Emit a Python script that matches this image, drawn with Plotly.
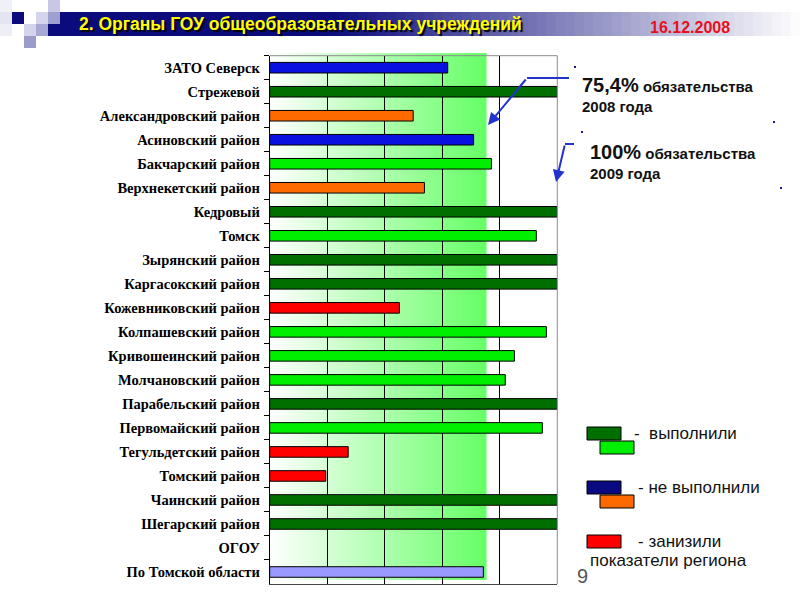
import plotly.graph_objects as go

# ---------------- data ----------------
regions = ["ЗАТО Северск", "Стрежевой", "Александровский район", "Асиновский район",
           "Бакчарский район", "Верхнекетский район", "Кедровый", "Томск",
           "Зырянский район", "Каргасокский район", "Кожевниковский район",
           "Колпашевский район", "Кривошеинский район", "Молчановский район",
           "Парабельский район", "Первомайский район", "Тегульдетский район",
           "Томский район", "Чаинский район", "Шегарский район", "ОГОУ",
           "По Томской области"]
percent = [61.9, 100, 49.9, 70.9, 77.1, 53.8, 100, 92.7, 100, 100, 45.1,
           96.2, 85.1, 81.9, 100, 94.8, 27.3, 19.5, 100, 100, None, 74.3]
status = ["not_done_a", "done_a", "not_done_b", "not_done_a", "done_b", "not_done_b",
          "done_a", "done_b", "done_a", "done_a", "lowered", "done_b", "done_b",
          "done_b", "done_a", "done_b", "lowered", "lowered", "done_a", "done_a",
          "none", "region"]
target_2008 = 75.4
target_2009 = 100
x_ticks = [0, 20, 40, 60, 80, 100]

title_text = "2. Органы ГОУ общеобразовательных учреждений"
date_text = "16.12.2008"

# ---------------- styles ----------------
status_colors = {
    "done_a": "#006f00", "done_b": "#00ee00",
    "not_done_a": "#0a10e0", "not_done_b": "#ff6a00",
    "lowered": "#ff0000", "region": "#9999ff", "none": "rgba(0,0,0,0)",
}
W, H = 800, 600
def px(x): return x / W
def py(y): return 1 - y / H

X0, X1 = 269.7, 557.3
Y0, Y1 = 55.7, 584.0

fig = go.Figure()
fig.add_trace(go.Bar(
    x=percent, y=regions, orientation="h",
    marker=dict(color=[status_colors[s] for s in status],
                line=dict(color="black", width=1)),
    width=0.44, showlegend=False, hoverinfo="x+y",
))

shapes = []
annotations = []

# green gradient background up to the 2008 obligation level
n = 60
for i in range(n):
    a = target_2008 * i / n
    b = target_2008 * (i + 1) / n + 0.3
    t = (i + 0.5) / n
    r = int(255 - t * (255 - 0x66))
    bl = int(255 - t * (255 - 0x66))
    shapes.append(dict(type="rect", xref="x", yref="paper",
                       x0=a, x1=min(b, target_2008), y0=py(580), y1=py(53),
                       fillcolor=f"rgb({r},255,{bl})", line=dict(width=0),
                       layer="below"))

# gray top and right frame
shapes.append(dict(type="line", xref="paper", yref="paper",
                   x0=px(X0), x1=px(X1), y0=py(Y0), y1=py(Y0),
                   line=dict(color="#8c8c8c", width=1)))
shapes.append(dict(type="line", xref="paper", yref="paper",
                   x0=px(X1), x1=px(X1), y0=py(Y0), y1=py(Y1),
                   line=dict(color="#8c8c8c", width=1)))

# header band with gradient
shapes.append(dict(type="rect", xref="paper", yref="paper",
                   x0=px(48), x1=px(330), y0=py(36), y1=py(12),
                   fillcolor="#0b0b7d", line=dict(width=0), layer="below"))
m = 50
for i in range(m):
    a = 330 + (800 - 330) * i / m
    b = 330 + (800 - 330) * (i + 1) / m + 1
    t = (i + 0.5) / m
    r = int(11 + t * (255 - 11))
    bl = int(125 + t * (255 - 125))
    shapes.append(dict(type="rect", xref="paper", yref="paper",
                       x0=px(a), x1=px(min(b, 800)), y0=py(36), y1=py(12),
                       fillcolor=f"rgb({r},{r},{bl})", line=dict(width=0),
                       layer="below"))

# decorative squares
squares = [
    (0, 0, "#f0f0f8"), (0, 12, "#e4e4f2"), (0, 24, "#eeeef6"),
    (48, 0, "#c8c8e6"), (12, 12, "#0b0b7d"), (36, 12, "#d4d4ec"),
    (48, 12, "#a0a0d0"), (24, 24, "#d4d4ec"), (36, 24, "#a8a8d4"),
    (24, 36, "#9c9ccc"),
]
for sx, sy, c in squares:
    shapes.append(dict(type="rect", xref="paper", yref="paper",
                       x0=px(sx), x1=px(sx + 12), y0=py(sy + 12), y1=py(sy),
                       fillcolor=c, line=dict(width=0), layer="below"))

# title with shadow
annotations.append(dict(text=f"<b>{title_text}</b>", xref="paper", yref="paper",
                        x=px(77), y=py(24), xanchor="left", yanchor="middle",
                        showarrow=False,
                        font=dict(family="Liberation Sans", size=17.5, color="#ffff00",
                                  shadow="2px 2px 1px #000000")))
annotations.append(dict(text=f"<b>{date_text}</b>", xref="paper", yref="paper",
                        x=px(648), y=py(27), xanchor="left", yanchor="middle",
                        showarrow=False,
                        font=dict(family="Liberation Sans", size=16, color="#e8101c")))

# obligation notes
annotations.append(dict(
    text=f"<b><span style='font-size:20px'>{str(target_2008).replace('.', ',')}%</span> обязательства<br>2008 года</b>",
    xref="paper", yref="paper", x=px(580), y=py(94), xanchor="left", yanchor="middle",
    align="left", showarrow=False,
    font=dict(family="Liberation Sans", size=15, color="#111111")))
annotations.append(dict(
    text=f"<b><span style='font-size:20px'>{target_2009}%</span> обязательства<br>2009 года</b>",
    xref="paper", yref="paper", x=px(588), y=py(161), xanchor="left", yanchor="middle",
    align="left", showarrow=False,
    font=dict(family="Liberation Sans", size=15, color="#111111")))

arrow_col = "#2233cc"
shapes.append(dict(type="line", xref="paper", yref="paper",
                   x0=px(527), x1=px(569), y0=py(78), y1=py(78),
                   line=dict(color=arrow_col, width=2)))
annotations.append(dict(text="", xref="paper", yref="paper", x=px(488), y=py(125),
                        ax=527 - 488, ay=78 - 125, showarrow=True, arrowhead=2,
                        arrowsize=1.2, arrowwidth=2, arrowcolor=arrow_col))
shapes.append(dict(type="line", xref="paper", yref="paper",
                   x0=px(565), x1=px(574), y0=py(144), y1=py(144),
                   line=dict(color=arrow_col, width=2)))
annotations.append(dict(text="", xref="paper", yref="paper", x=px(556), y=py(182),
                        ax=565 - 556, ay=144 - 182, showarrow=True, arrowhead=2,
                        arrowsize=1.2, arrowwidth=2, arrowcolor=arrow_col))
for dx_, dy_ in [(574, 66), (773, 121), (581, 131), (780, 187)]:
    shapes.append(dict(type="rect", xref="paper", yref="paper",
                       x0=px(dx_), x1=px(dx_ + 2), y0=py(dy_ + 2), y1=py(dy_),
                       fillcolor="#1a1a99", line=dict(width=0)))

# custom legend
legend_items = [
    (427, status_colors["done_a"], status_colors["done_b"], "-  выполнили", 632),
    (481, "#0a0a80", status_colors["not_done_b"], "- не выполнили", 636),
    (535, status_colors["lowered"], None, "- занизили", 636),
]
for ly, c1, c2, txt, tx in legend_items:
    shapes.append(dict(type="rect", xref="paper", yref="paper",
                       x0=px(587), x1=px(621), y0=py(ly + 13), y1=py(ly),
                       fillcolor=c1, line=dict(color="black", width=1)))
    if c2:
        shapes.append(dict(type="rect", xref="paper", yref="paper",
                           x0=px(600), x1=px(634), y0=py(ly + 27), y1=py(ly + 14),
                           fillcolor=c2, line=dict(color="black", width=1)))
    annotations.append(dict(text=txt, xref="paper", yref="paper",
                            x=px(tx), y=py(ly + 6), xanchor="left", yanchor="middle",
                            showarrow=False,
                            font=dict(family="Liberation Sans", size=17, color="#111111")))
annotations.append(dict(text="показатели региона", xref="paper", yref="paper",
                        x=px(588), y=py(560), xanchor="left", yanchor="middle",
                        showarrow=False,
                        font=dict(family="Liberation Sans", size=17, color="#111111")))
annotations.append(dict(text="9", xref="paper", yref="paper",
                        x=px(575), y=py(576), xanchor="left", yanchor="middle",
                        showarrow=False,
                        font=dict(family="Liberation Sans", size=20, color="#555555")))

fig.update_layout(
    width=W, height=H,
    margin=dict(l=0, r=0, t=0, b=0),
    paper_bgcolor="white", plot_bgcolor="rgba(0,0,0,0)",
    shapes=shapes, annotations=annotations,
    xaxis=dict(domain=[px(X0), px(X1)], range=[0, 100], tickvals=x_ticks,
               showticklabels=False, showgrid=True, gridcolor="black", gridwidth=1,
               zeroline=False, showline=True, linecolor="#444444", linewidth=1,
               fixedrange=True),
    yaxis=dict(domain=[py(Y1), py(Y0)], autorange="reversed", type="category",
               tickson="boundaries", ticks="outside", ticklen=5, tickcolor="black",
               showline=True, linecolor="black", linewidth=1, showgrid=False,
               tickfont=dict(family="Liberation Serif", size=14.5, color="black"),
               tickprefix="<b>", ticksuffix="</b>", ticklabelstandoff=6,
               fixedrange=True),
    font=dict(family="Liberation Serif"),
)

fig.write_html("out.html", config={"displayModeBar": False},
               post_script="document.body.style.margin='0';")
